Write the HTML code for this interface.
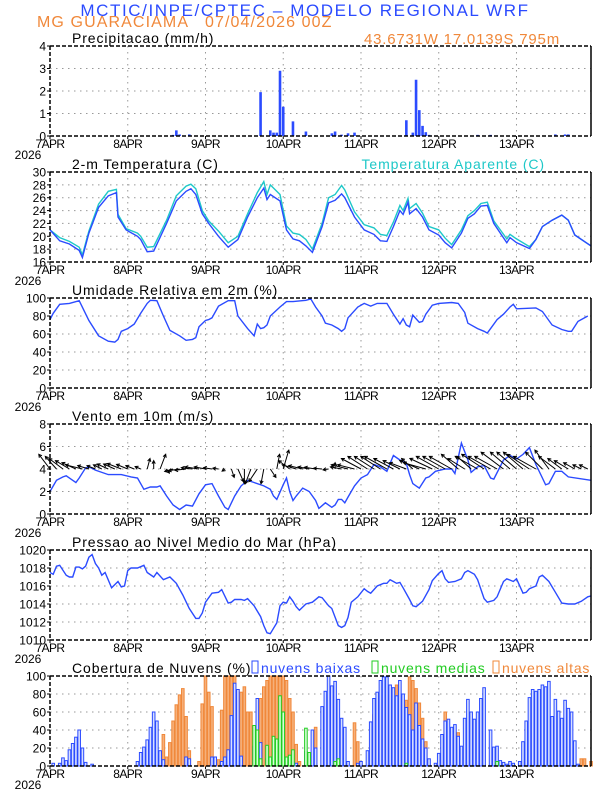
<!DOCTYPE html>
<html><head><meta charset="utf-8"><style>
html,body{margin:0;padding:0;background:#fff;}
svg{display:block;font-family:"Liberation Sans",sans-serif;}
</style></head><body>
<svg id="chart" width="612" height="792" viewBox="0 0 612 792" xmlns="http://www.w3.org/2000/svg">
<text x="305" y="16" text-anchor="middle" font-size="17" letter-spacing="1.6" fill="#2b4bff">MCTIC/INPE/CPTEC – MODELO REGIONAL WRF</text>
<text x="37" y="27" font-size="16" letter-spacing="1.1" fill="#f0883a">MG GUARACIAMA</text>
<text x="205" y="27" font-size="16" letter-spacing="1.1" fill="#f0883a">07/04/2026 00Z</text>
<text x="560" y="44" text-anchor="end" font-size="15" letter-spacing="0.8" fill="#f0883a">43.6731W 17.0139S 795m</text>
</svg>
<script>
const NS='http://www.w3.org/2000/svg';
const svg=document.getElementById('chart');
// ---- data ----
const dayLabels=['7APR','8APR','9APR','10APR','11APR','12APR','13APR'];
const precipHours=[38,39,40,43,65,68,69,70,71,72,75,79,87,88,90,92,94,110,112,113,114,115,116,117,132,136,156,159,160];
const precipVals=[0.05,0.25,0.07,0.07,1.95,0.25,0.15,0.15,2.9,1.3,0.65,0.2,0.12,0.2,0.06,0.12,0.15,0.7,0.15,2.5,1.15,0.45,0.17,0.05,0.05,0.05,0.07,0.07,0.07];
const tempHours=[0,3,6,9,10,12,15,18,20.5,21,23.5,27,28,30,32,36,39,42,43.5,45,47,49,52,55,58,61,64,66,67,68,71,73,75,77,79,81,84,86,88,90,91,94,97,100,102,104,106,108,109,110.5,111,113,115,117,120,122,124,127,129,131,133,135,137,139,141,142,144,148,150,152,155,158,160,162,167];
const tempVals=[21,19.3,18.8,17.8,16.7,20.5,24.5,26.3,26.8,23,21,20,19.5,17.6,17.7,22,25.5,27,27.4,26.5,23.5,22,20,18.3,19.5,23,26,27.5,25.7,26.5,25.5,21,19.6,19.3,18.5,17.5,21.5,25.2,25.6,26.6,26,23,21,20.3,19.3,19.2,21.5,24,23.4,25.3,23.5,24.3,23,21,20.2,19,18.2,20.5,22.8,23.5,24.7,24.8,22,20.5,19,19.8,19,18.1,19.5,21.5,22.5,23.3,22.5,20.2,18.5];
const appTempVals=[21,19.8,19.2,18.3,17.1,20.8,25,27,27.3,23.4,21.2,20.5,20,18.3,18.4,22.5,26.3,27.8,28.1,27.4,24,22.4,20.8,19,20,23.5,26.8,28.5,26.5,28,26.5,21.6,20.5,20.3,19.5,18,22,26,26.5,27.9,27.2,23.8,21.8,21.3,20.3,20.1,22.2,24.8,24,25.9,24.3,25.1,23.6,21.5,21,19.7,18.7,21,23.2,24,25.1,25.3,22.4,21,19.6,20.3,19.6,18.4,19.5,21.5,22.5,23.3,22.5,20.2,18.5];
const rhHours=[0,1,3,6,9,12,15,18,20,21,22,24,26,28,30,31,33,35,37,40,42,44,45,46,48,49,50,52,55,57,58,61,63,64,65,66,67,68,71,73,75,79,80.5,82,84,85,87,89,90,91,92,95,97,99,101,104,106,108,109,110,111,112,114,115,116,118,120,124,126,128,129,132,134,135,136,138,140,142,143,144,150,152,155,158,160,161,163,166];
const rhVals=[76,83,93,94,97,75,58,52,51,54,63,66,71,83,94,97.5,97,80,64,58,53,54,56,68,75,76,78,91,97,97,80,66,58,71,66,67,70,80,90,96,96,97.5,99,90,80,72,70,66,63,66,78,90,94,91,94,94,82,71,77,70,68,81,73,74,82,92,94,95,94,84,72,66,63,61,66,76,82,90,93,88,89,85,70,65,63,63,74,80];
const windHours=[0,2,4,5,7,8,9,11,12,14,18,22,25,27,29,31,33,34,36,38,40,42,44,46,48,50,52,54,55,57,59,61,63,66,68,69,70,72,73,74,75,76,78,80,82,83,85,87,88,89,90,91,92,94,96,98,100,102,104,105,106,108,110,111,112,113,114,116,117,119,122,124,125,126,127,129,130,132,134,136,137,140,142,144,146,148,150,152,153,154,156,158,160,167];
const windVals=[2.0,3.0,3.3,3.4,3.0,2.8,3.2,4.1,4.2,3.9,3.5,3.5,3.3,3.2,2.2,2.4,2.4,2.5,1.6,0.8,0.4,0.8,0.7,1.8,2.6,2.7,1.6,0.6,0.4,1.6,2.5,3.0,2.8,2.5,2.2,1.6,1.3,2.6,3.2,2.0,1.2,1.6,2.3,2.0,1.2,0.5,1.0,0.6,0.8,1.3,1.3,1.0,1.5,2.5,3.2,3.5,4.4,4.2,3.8,4.5,5.2,4.8,4.5,3.5,2.7,2.5,2.3,3.2,3.3,3.8,4.0,4.0,3.6,5.0,6.3,4.8,3.7,4.2,4.3,3.2,3.1,4.8,5.2,4.9,5.3,5.9,4.4,3.2,2.6,2.7,3.8,3.8,3.3,3.0];
const arrowHours=[0,2,4,6,8,10,12,14,16,18,20,22,24,26,28,30,32,34,36,38,40,42,44,46,48,50,52,54,56,58,60,62,64,66,68,70,72,74,76,78,80,82,84,86,88,90,92,94,96,98,100,102,104,106,108,110,112,114,116,118,120,122,124,126,128,130,132,134,136,138,140,142,144,146,148,150,152,154,156,158,160,162,164,166];
const windU=[-4,-4,-5,-5,-5,-6,-4,-3,-3,-4,-4,-5,-4,-3,-2,1,0,2,1,-3,-4,-4,-4,-5,-4,-3,-2,-1,1,2,0,-2,-3,-1,2,1,2,-4,-5,-5,-4,-4,-3,-2,0,-4,-6,-6,-7,-7,-7,-7,-8,-7,-6,-6,-4,-7,-8,-8,-8,-8,-8,-6,-6,-5,-8,-8,-8,-8,-8,-7,-7,-7,-8,-8,-6,-5,-6,-5,-5,-4,-3,-3];
const windV=[3.5,3,2.5,2,1.5,1,0.8,0.8,1,1.2,1.2,1.3,1.1,0.8,0.6,2.5,2,3.5,-1,-0.6,-0.4,-0.3,0.3,0.5,0.5,0.3,0.2,-0.5,-2,-3,-3.5,-3.5,-3,-3.5,-2,3.5,4.5,2,1,0.8,0.5,0.4,0.2,-0.2,1.5,0.5,1,1,2.5,3,3,3,3,2.5,2,1.5,2.5,2,1.5,2.5,3,3,3,3.5,2.5,3,3,3.5,3,3,4,4,4,4,3.5,3,4,4.5,3,2.5,2,1.5,1,1];
const presHours=[0,1,2,3,5,6,7,8,9,10,11,12,13,14,15,16,17,19,21,22,23,24,25,27,29,30,32,33,35,37,39,41,43,45,46,47,48,50,52,53,55,56,57,59,60,61,63,65,66,67,68,69,70,71,72,73,74,75,76,77,79,81,83,84,86,87,89,90,91,92,93,95,97,98,99,101,103,104,105,106,107,108,109,111,112,113,115,117,118,120,121,122,123,125,127,128,129,131,132,134,135,137,138,140,141,143,144,146,147,148,150,151,152,154,156,158,160,162,164,166,167];
const presVals=[1017.5,1017.3,1018.2,1018.3,1017.2,1017.0,1017.0,1018.1,1018.1,1017.9,1018.2,1019.2,1019.5,1018.5,1018.0,1017.2,1017.5,1015.8,1016.5,1015.9,1016.0,1017.7,1018.0,1018.0,1018.3,1017.5,1017.0,1017.5,1016.7,1017.0,1016.3,1015.0,1013.5,1012.4,1012.4,1013.0,1014.2,1015.2,1015.3,1015.6,1014.1,1014.2,1014.5,1014.5,1014.4,1014.6,1013.8,1012.6,1011.6,1010.8,1010.7,1011.3,1011.9,1013.8,1014.2,1014.1,1014.8,1014.3,1013.7,1013.3,1014.0,1014.2,1014.8,1014.7,1013.8,1013.5,1011.6,1011.4,1011.6,1012.5,1014.2,1014.8,1015.7,1015.4,1015.2,1016.0,1016.3,1016.3,1016.7,1016.5,1016.3,1016.4,1015.8,1014.5,1013.8,1013.7,1014.3,1015.6,1016.6,1017.4,1017.7,1016.8,1016.4,1016.5,1016.8,1017.5,1017.7,1017.3,1016.7,1014.6,1014.2,1014.4,1014.8,1016.5,1016.8,1016.5,1016.8,1015.2,1015.3,1015.7,1016.0,1017.0,1017.2,1016.5,1015.3,1014.1,1014.0,1014.0,1014.3,1014.8,1014.9];
const lowHours=[1,3,4,5,6,7,8,9,10,11,13,27,28,29,30,31,32,33,34,35,42,43,50,51,53,54,55,56,57,58,59,63,64,65,67,68,69,70,71,74,75,76,79,81,82,84,85,86,87,88,89,90,91,92,95,96,98,99,100,101,102,103,104,105,106,107,108,109,110,111,112,113,114,115,116,117,119,120,121,122,123,124,125,126,127,128,129,130,131,132,133,134,136,137,138,139,140,141,142,143,145,146,147,148,149,150,151,152,153,154,155,156,157,158,159,160,161,162,163];
const lowVals=[3,3,9,6,18,25,32,40,20,4,2,5,15,21,29,43,60,50,17,7,10,8,10,10,5,10,18,56,92,85,11,22,75,26,8,5,6,12,4,3,5,3,16,40,20,66,83,100,89,94,74,53,43,5,3,5,17,49,75,82,95,99,99,90,87,78,95,80,65,57,40,70,45,30,20,8,3,14,35,50,52,43,46,33,22,53,74,60,52,60,75,87,40,21,22,6,4,2,5,3,5,27,50,76,85,83,85,90,88,94,55,74,61,53,73,64,60,28,2];
const highHours=[35,36,37,38,39,40,41,42,43,46,47,48,49,50,52,53,54,55,56,57,58,59,60,61,62,64,65,66,67,68,69,70,71,72,73,74,75,76,77,82,87,88,94,95,100,103,107,108,109,110,111,112,113,114,115,116,122,123,126,127,138,164,165,167];
const highVals=[35,10,26,50,68,79,86,55,17,5,69,100,82,66,7,62,100,100,100,100,85,82,88,60,60,20,75,88,95,100,100,100,100,100,95,75,60,24,5,43,7,15,48,27,57,82,90,53,63,73,99,95,86,70,53,27,60,5,37,10,5,8,8,5];
const midHours=[63,64,65,67,68,69,70,71,72,73,74,75,79,80,88,89,110,138];
const midVals=[45,40,8,23,10,33,30,78,60,10,12,18,42,15,5,8,3,5];
// ---- helpers ----
const X0=50,X1=591,H0=0,H1=167;
function xS(h){return X0+(h-H0)*(X1-X0)/(H1-H0);}
function mk(tag,attrs,parent){const e=document.createElementNS(NS,tag);for(const k in attrs)e.setAttribute(k,attrs[k]);(parent||svg).appendChild(e);return e;}
function yScale(top,bot,min,max){return v=>bot-(v-min)*(bot-top)/(max-min);}
function panel(name,top,min,max,step,title){
  const bot=top+90;const ys=yScale(top,bot,min,max);
  const g=mk('g',{});
  
  
  for(let v=min+step;v<max;v+=step){const l=mk('line',{x1:X0,x2:X1,y1:ys(v),y2:ys(v),stroke:'#999','stroke-dasharray':'1.5 4.5','stroke-width':1},g);
    }
  for(let d=1;d<7;d++){const xx=xS(d*24);const l=mk('line',{x1:xx,x2:xx,y1:top,y2:bot,stroke:'#999','stroke-dasharray':'1.5 4.5','stroke-width':1},g);
    }
  for(let v=min;v<=max+1e-9;v+=step){
    const t=mk('text',{x:X0-4,y:ys(v)+4.5,'text-anchor':'end','font-size':12},g);t.textContent=String(v);
    
    mk('line',{x1:X0-3,x2:X0,y1:ys(v),y2:ys(v),stroke:'#000'},g);
  }
  dayLabels.forEach((lab,i)=>{const xx=xS(i*24);
    const t=mk('text',{x:xx,y:bot+12,'text-anchor':'middle','font-size':12,'letter-spacing':'-0.6'},g);t.textContent=lab;
    
    mk('line',{x1:xx,x2:xx,y1:bot,y2:bot+3,stroke:'#000'},g);});
  const yr=mk('text',{x:28,y:bot+23,'text-anchor':'middle','font-size':12},g);yr.textContent='2026';
  
  const tt=mk('text',{x:72,y:top-3,'font-size':14,'letter-spacing':'0.9'},g);tt.textContent=title;
  
  return {g,ys,top,bot};
}
function frame(p){
  mk('line',{x1:X0,x2:X1,y1:p.top,y2:p.top,stroke:'#000','stroke-dasharray':'4 2','stroke-width':1.5},p.g);
  mk('line',{x1:X0,x2:X0,y1:p.top,y2:p.bot,stroke:'#000','stroke-dasharray':'4 2','stroke-width':1.5},p.g);
  mk('line',{x1:X0,x2:X1,y1:p.bot,y2:p.bot,stroke:'#000','stroke-dasharray':'4 2','stroke-width':1.5},p.g);
  mk('line',{x1:X1,x2:X1,y1:p.top,y2:p.bot,stroke:'#000','stroke-width':1.5},p.g);
}
function line(p,hs,vs,color,name){
  const pts=hs.map((h,i)=>xS(h).toFixed(1)+','+p.ys(vs[i]).toFixed(1)).join(' ');
  const l=mk('polyline',{points:pts,fill:'none',stroke:color,'stroke-width':1.4},p.g);
  
}
// ---- precipitation ----
const p1=panel('precip',46,0,4,1,'Precipitacao (mm/h)');
precipHours.forEach((h,i)=>{
  const b=mk('rect',{x:xS(h)-1.3,y:p1.ys(precipVals[i]),width:2.6,height:p1.bot-p1.ys(precipVals[i]),fill:'#2b4bff'},p1.g);
  
  
});
frame(p1);
// ---- temperature ----
const p2=panel('temperature',172,16,30,2,'2-m Temperatura (C)');
line(p2,tempHours,appTempVals,'#1ec8c8','apparent-temperature-line');
line(p2,tempHours,tempVals,'#2b4bff','temperature-line');
frame(p2);
const lt=mk('text',{x:545,y:169,'text-anchor':'end','font-size':14,'letter-spacing':'0.9',fill:'#1ec8c8'});lt.textContent='Temperatura Aparente (C)';


// ---- humidity ----
const p3=panel('humidity',298,0,100,20,'Umidade Relativa em 2m (%)');
line(p3,rhHours,rhVals,'#2b4bff','humidity-line');
frame(p3);
// ---- wind ----
const p4=panel('wind',424,0,8,2,'Vento em 10m (m/s)');
line(p4,windHours,windVals,'#2b4bff','wind-speed-line');
const base=p4.ys(4),ASX=2.8,ASY=4.2;
arrowHours.forEach((h,i)=>{
  const x0=xS(h),x1=x0+windU[i]*ASX,y1=base-windV[i]*ASY;
  const ang=Math.atan2(y1-base,x1-x0);const hl=3.5;
  const d=`M${x0.toFixed(1)},${base.toFixed(1)}L${x1.toFixed(1)},${y1.toFixed(1)}M${(x1-hl*Math.cos(ang-0.5)).toFixed(1)},${(y1-hl*Math.sin(ang-0.5)).toFixed(1)}L${x1.toFixed(1)},${y1.toFixed(1)}L${(x1-hl*Math.cos(ang+0.5)).toFixed(1)},${(y1-hl*Math.sin(ang+0.5)).toFixed(1)}`;
  const a=mk('path',{d:d,stroke:'#000','stroke-width':1,fill:'none'},p4.g);
  
  
});
frame(p4);
// ---- pressure ----
const p5=panel('pressure',550,1010,1020,2,'Pressao ao Nivel Medio do Mar (hPa)');
line(p5,presHours,presVals,'#2b4bff','pressure-line');
frame(p5);
// ---- clouds ----
const p6=panel('clouds',676,0,100,20,'Cobertura de Nuvens (%)');
function cbars(hs,vs,stroke,fill,name){
  hs.forEach((h,i)=>{
    const b=mk('rect',{x:xS(h)-1.3,y:p6.ys(vs[i]),width:2.6,height:p6.bot-p6.ys(vs[i]),fill:fill,stroke:stroke,'stroke-width':1},p6.g);
    
    
  });
}
cbars(highHours,highVals,'#f0883a','#f6b07a','high-cloud-bar');
cbars(lowHours,lowVals,'#2b4bff','#d8e0ff','low-cloud-bar');
cbars(midHours,midVals,'#22cc22','#d8ffd8','mid-cloud-bar');
frame(p6);
function legend(x,txt,col,name){
  const r=mk('rect',{x:x,y:661,width:6,height:12,fill:'none',stroke:col,'stroke-width':1});
  
  
  const t=mk('text',{x:x+9,y:673,'font-size':14,'letter-spacing':'0.8',fill:col});t.textContent=txt;
  
  
}
legend(252,'nuvens baixas','#2b4bff','legend-low-clouds');
legend(372,'nuvens medias','#22cc22','legend-mid-clouds');
legend(493,'nuvens altas','#f0883a','legend-high-clouds');
</script>
</body></html>
